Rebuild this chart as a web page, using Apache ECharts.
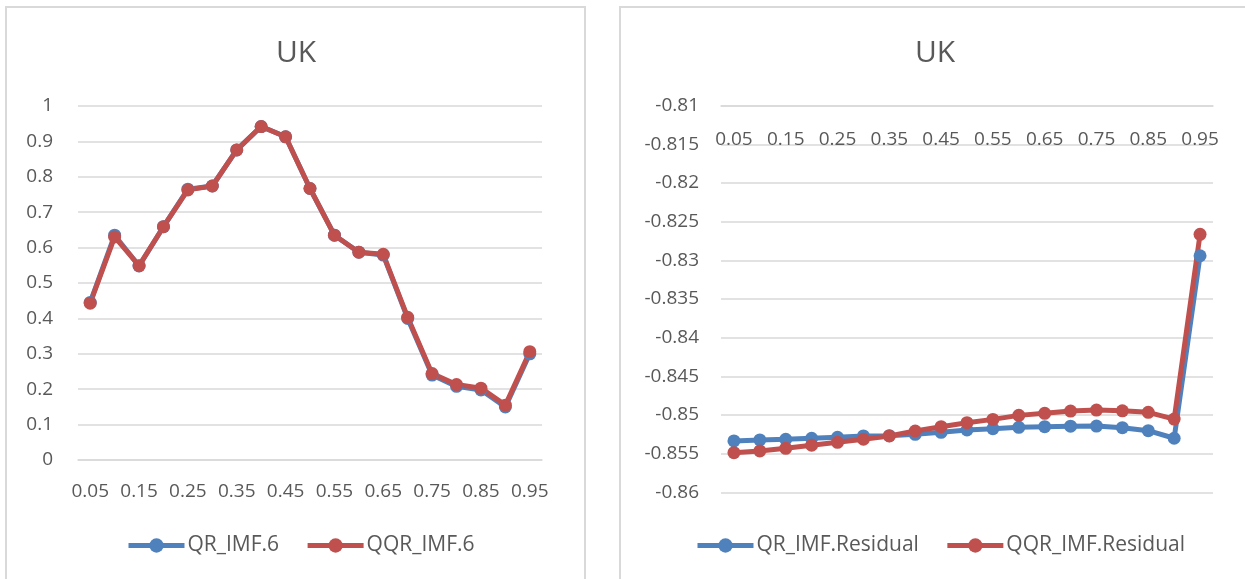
<!DOCTYPE html>
<html>
<head>
<meta charset="utf-8">
<script src="https://cdn.jsdelivr.net/npm/echarts@6/dist/echarts.min.js"></script>
<style>
  body { margin: 0; background: #fff; }
  .panel { position: absolute; border: 2px solid #d9d9d9; background: #fff; }
  #chart { position: absolute; left: 0; top: 0; width: 1245px; height: 579px; }
</style>
</head>
<body>
<div class="panel" style="left:5px; top:6px; width:577px; height:600px;"></div>
<div class="panel" style="left:619px; top:6px; width:640px; height:600px;"></div>
<div id="chart"></div>
<script>
const quantiles = ["0.05", "0.1", "0.15", "0.2", "0.25", "0.3", "0.35", "0.4", "0.45", "0.5",
  "0.55", "0.6", "0.65", "0.7", "0.75", "0.8", "0.85", "0.9", "0.95"];

// left panel: IMF.6
const qrImf6 = [0.445, 0.635, 0.548, 0.659, 0.765, 0.774, 0.876, 0.942, 0.913, 0.767,
  0.635, 0.587, 0.579, 0.400, 0.240, 0.208, 0.198, 0.150, 0.300];
const qqrImf6 = [0.443, 0.630, 0.549, 0.659, 0.763, 0.774, 0.876, 0.942, 0.913, 0.767,
  0.635, 0.587, 0.581, 0.403, 0.244, 0.213, 0.203, 0.155, 0.306];

// right panel: IMF.Residual
const qrResidual = [-0.85335, -0.85322, -0.85313, -0.8530, -0.85288, -0.8527, -0.85266, -0.85249, -0.85223, -0.85193,
  -0.85176, -0.85159, -0.8515, -0.85144, -0.85142, -0.85163, -0.85202, -0.8530, -0.8294];
const qqrResidual = [-0.85486, -0.85464, -0.8543, -0.8539, -0.85352, -0.85313, -0.8527, -0.85206, -0.8515, -0.85099,
  -0.85056, -0.85004, -0.84978, -0.84948, -0.84936, -0.84945, -0.84965, -0.85052, -0.82663];

const blue = "#4f81bd";
const red = "#c0504d";
const txt = "#595959";
const gridColor = "#d9d9d9";
const font = "'Open Sans', sans-serif";

const chart = echarts.init(document.getElementById("chart"));

function lineSeries(name, data, color, idx) {
  return {
    name: name,
    type: "line",
    data: data,
    xAxisIndex: idx,
    yAxisIndex: idx,
    symbol: "circle",
    symbolSize: 13,
    color: color,
    lineStyle: { width: 5, color: color },
    itemStyle: { color: color },
    animation: false,
  };
}

const legendText = { fontSize: 21, color: txt, fontFamily: font, padding: [0, 0, 0, -2] };

const option = {
  textStyle: { fontFamily: font },
  title: [
    { text: "UK", left: 291, top: 33, textAlign: "center",
      textStyle: { fontSize: 30, fontWeight: "normal", color: txt, fontFamily: font } },
    { text: "UK", left: 930, top: 33, textAlign: "center",
      textStyle: { fontSize: 30, fontWeight: "normal", color: txt, fontFamily: font } },
  ],
  legend: [
    { data: ["QR_IMF.6", "QQR_IMF.6"], left: 121, top: 530, itemWidth: 56, itemHeight: 18,
      itemGap: 26, lineStyle: { width: 5 }, textStyle: legendText },
    { data: ["QR_IMF.Residual", "QQR_IMF.Residual"], left: 690, top: 530, itemWidth: 56, itemHeight: 18,
      itemGap: 26, lineStyle: { width: 5 }, textStyle: legendText },
  ],
  grid: [
    { left: 78, top: 106, width: 464, height: 354 },
    { left: 721, top: 105.7, width: 492, height: 386.7 },
  ],
  xAxis: [
    {
      type: "category", gridIndex: 0, data: quantiles,
      axisLine: { lineStyle: { color: gridColor, width: 1.5 } },
      axisTick: { show: false },
      axisLabel: { interval: 1, margin: 22, fontSize: 19, color: txt, fontFamily: font },
    },
    {
      type: "category", gridIndex: 1, data: quantiles, position: "top",
      axisLine: { lineStyle: { color: gridColor, width: 1.5 } },
      axisTick: { show: false },
      axisLabel: { interval: 1, inside: true, margin: 24, fontSize: 19, color: txt, fontFamily: font },
    },
  ],
  yAxis: [
    {
      type: "value", gridIndex: 0, min: 0, max: 1, interval: 0.1,
      axisLine: { show: false }, axisTick: { show: false },
      splitLine: { lineStyle: { color: gridColor, width: 1.5 } },
      axisLabel: { margin: 25, fontSize: 19, color: txt, fontFamily: font },
    },
    {
      type: "value", gridIndex: 1, min: -0.86, max: -0.81, interval: 0.005,
      axisLine: { show: false }, axisTick: { show: false },
      splitLine: { lineStyle: { color: gridColor, width: 1.5 } },
      axisLabel: { margin: 22, fontSize: 19, color: txt, fontFamily: font },
    },
  ],
  series: [
    lineSeries("QR_IMF.6", qrImf6, blue, 0),
    lineSeries("QQR_IMF.6", qqrImf6, red, 0),
    lineSeries("QR_IMF.Residual", qrResidual, blue, 1),
    lineSeries("QQR_IMF.Residual", qqrResidual, red, 1),
  ],
};

chart.setOption(option);
</script>
</body>
</html>
